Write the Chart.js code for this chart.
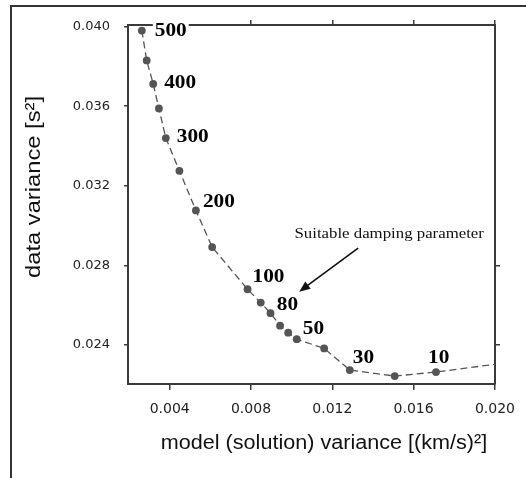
<!DOCTYPE html>
<html>
<head>
<meta charset="utf-8">
<script src="https://cdn.jsdelivr.net/npm/chart.js@4.4.1/dist/chart.umd.min.js"></script>
<style>
  html, body { margin: 0; padding: 0; background: #fff; }
  canvas { display: block; }
</style>
</head>
<body>
<canvas id="lcurve" width="526" height="478"></canvas>
<script>
// L-curve: model variance vs data variance for different damping values
const modelVar = [0.00263, 0.00287, 0.00319, 0.00347, 0.00381, 0.00448, 0.00529, 0.00609, 0.00783, 0.00848,
                  0.00896, 0.00943, 0.00983, 0.01025, 0.0116, 0.01286, 0.01507, 0.0171, 0.0200];
const dataVar = [0.0398, 0.0383, 0.03712, 0.03589, 0.0344, 0.03275, 0.03076, 0.02892, 0.0268, 0.02613,
                 0.0256, 0.02497, 0.02462, 0.02429, 0.02383, 0.02274, 0.02244, 0.02264, 0.02303];

// damping parameter labels and the point each one belongs to
const dampingLabels = ['500', '400', '300', '200', '100', '80', '50', '30', '10'];
const labelPoints = [0, 2, 4, 6, 8, 9, 13, 15, 17];

const xTicks = [0.004, 0.008, 0.012, 0.016, 0.020];
const yTicks = [0.024, 0.028, 0.032, 0.036, 0.040];
const topTicks = [0.008, 0.012, 0.016, 0.020];
const rightTicks = [0.024, 0.028];

const axisColor = '#3a3a3a';
const markColor = '#555';

const points = modelVar.map((x, i) => ({ x: x, y: dataVar[i] }));

function setTicks(values) {
    return scale => { scale.ticks = values.map(v => ({ value: v })); };
}

function stretchedText(ctx, text, x, y, sx, sy, align) {
    ctx.save();
    ctx.translate(x, y);
    ctx.scale(sx, sy);
    ctx.textAlign = align;
    ctx.fillText(text, 0, 0);
    ctx.restore();
}

const decorations = {
    id: 'decorations',
    beforeDraw(chart) {
        const ctx = chart.ctx;
        ctx.save();
        ctx.fillStyle = '#fff';
        ctx.fillRect(0, 0, chart.width, chart.height);
        // outer frame of the figure
        ctx.strokeStyle = '#333';
        ctx.lineWidth = 2;
        ctx.beginPath();
        ctx.moveTo(11, 478);
        ctx.lineTo(11, 6);
        ctx.lineTo(526, 6);
        ctx.stroke();
        ctx.restore();
    },
    afterDraw(chart) {
        const ctx = chart.ctx;
        const xs = chart.scales.x, ys = chart.scales.y;
        ctx.save();

        // axis titles
        ctx.fillStyle = '#111';
        ctx.textBaseline = 'middle';
        ctx.font = '20px "Liberation Sans", Arial, sans-serif';
        stretchedText(ctx, 'model (solution) variance [(km/s)\u00B2]', 324, 443, 1.08, 1, 'center');
        ctx.save();
        ctx.translate(34, 187);
        ctx.rotate(-Math.PI / 2);
        ctx.font = '21px "Liberation Sans", Arial, sans-serif';
        stretchedText(ctx, 'data variance [s\u00B2]', 0, 0, 1.13, 1, 'center');
        ctx.restore();

        // damping labels next to their points
        const offsets = [[13, 0], [11, -2], [11, -2], [7, -9], [5, -13], [16, 1], [6, -11], [3, -13], [-8, -15]];
        ctx.font = 'bold 19px "Liberation Serif", "Times New Roman", serif';
        dampingLabels.forEach((lab, i) => {
            const p = labelPoints[i];
            const px = xs.getPixelForValue(modelVar[p]) + offsets[i][0];
            const py = ys.getPixelForValue(dataVar[p]) + offsets[i][1];
            const w = ctx.measureText(lab).width * 1.12;
            ctx.fillStyle = '#fff';
            ctx.fillRect(px - 2, py - 8, w + 4, 16);
            ctx.fillStyle = '#000';
            stretchedText(ctx, lab, px, py + 1, 1.12, 1, 'left');
        });

        // annotation with arrow
        ctx.fillStyle = '#111';
        ctx.font = '15px "Liberation Serif", "Times New Roman", serif';
        stretchedText(ctx, 'Suitable damping parameter', xs.getPixelForValue(0.01014), ys.getPixelForValue(0.02958), 1.12, 1, 'left');

        const x1 = xs.getPixelForValue(0.01327), y1 = ys.getPixelForValue(0.02887);
        const x2 = xs.getPixelForValue(0.01037), y2 = ys.getPixelForValue(0.02668);
        const ang = Math.atan2(y2 - y1, x2 - x1);
        ctx.strokeStyle = '#111';
        ctx.lineWidth = 1.6;
        ctx.beginPath();
        ctx.moveTo(x1, y1);
        ctx.lineTo(x2 - 8 * Math.cos(ang), y2 - 8 * Math.sin(ang));
        ctx.stroke();
        ctx.beginPath();
        ctx.moveTo(x2, y2);
        ctx.lineTo(x2 - 11 * Math.cos(ang) + 4.5 * Math.sin(ang), y2 - 11 * Math.sin(ang) - 4.5 * Math.cos(ang));
        ctx.lineTo(x2 - 11 * Math.cos(ang) - 4.5 * Math.sin(ang), y2 - 11 * Math.sin(ang) + 4.5 * Math.cos(ang));
        ctx.closePath();
        ctx.fill();

        ctx.restore();
    }
};

const gridStyle = len => ({ drawOnChartArea: false, tickLength: len, color: axisColor, lineWidth: 1.5 });
const borderStyle = { display: true, color: axisColor, width: 2 };

new Chart(document.getElementById('lcurve'), {
    type: 'scatter',
    data: {
        datasets: [{
            data: points,
            showLine: true,
            borderColor: markColor,
            borderWidth: 1.3,
            borderDash: [7, 4],
            backgroundColor: markColor,
            pointBackgroundColor: markColor,
            pointBorderWidth: 0,
            pointRadius: ctx => ctx.dataIndex === points.length - 1 ? 0 : 3.9,
            clip: false
        }]
    },
    options: {
        responsive: false,
        devicePixelRatio: 1,
        animation: false,
        layout: { padding: 0 },
        plugins: { legend: { display: false }, tooltip: { enabled: false } },
        scales: {
            x: {
                type: 'linear', position: 'bottom', min: 0.00195, max: 0.0200,
                afterBuildTicks: setTicks(xTicks),
                afterFit: s => { s.height = 94; },
                grid: gridStyle(6), border: borderStyle,
                ticks: {
                    padding: 11, color: '#222', maxRotation: 0,
                    font: { family: '"DejaVu Sans", sans-serif', size: 14 },
                    callback: v => v.toFixed(3)
                }
            },
            y: {
                type: 'linear', position: 'left', min: 0.02204, max: 0.04008,
                afterBuildTicks: setTicks(yTicks),
                afterFit: s => { s.width = 128; },
                grid: gridStyle(4), border: borderStyle,
                ticks: {
                    padding: 14, color: '#222',
                    font: { family: '"DejaVu Sans", sans-serif', size: 13 },
                    callback: v => v.toFixed(3)
                }
            },
            x2: {
                type: 'linear', position: 'top', min: 0.00195, max: 0.0200,
                afterBuildTicks: setTicks(topTicks),
                afterFit: s => { s.height = 25; },
                grid: gridStyle(5), border: borderStyle,
                ticks: { display: false }
            },
            y2: {
                type: 'linear', position: 'right', min: 0.02204, max: 0.04008,
                afterBuildTicks: setTicks(rightTicks),
                afterFit: s => { s.width = 25; },
                grid: gridStyle(5), border: borderStyle,
                ticks: { display: false }
            }
        }
    },
    plugins: [decorations]
});
</script>
</body>
</html>
